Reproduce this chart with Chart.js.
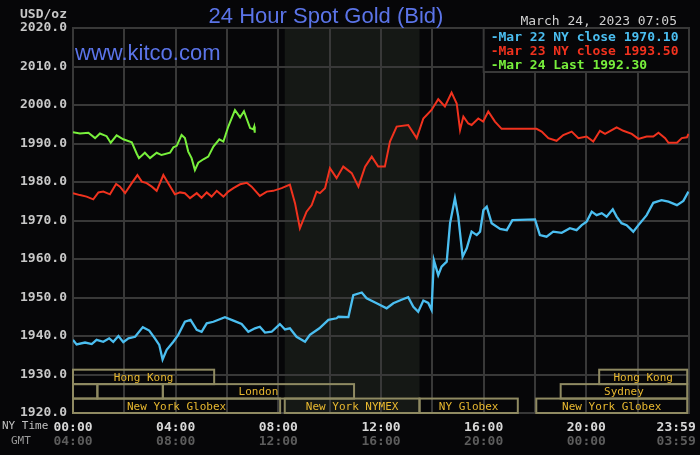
<!DOCTYPE html>
<html lang="en">
<head>
<meta charset="UTF-8">
<title>24 Hour Spot Gold (Bid)</title>
<script src="https://cdn.jsdelivr.net/npm/chart.js"></script>
<style>
  html, body { margin: 0; padding: 0; background: #060608; }
  canvas { display: block; }
</style>
</head>
<body>
<canvas id="goldChart" width="700" height="455"></canvas>
<script>
// hours after midnight (NY time) and bid price in USD/oz
const mar22Hours = [0, 0.14, 0.47, 0.73, 0.92, 1.18, 1.41, 1.57, 1.77, 1.96, 2.16, 2.42, 2.72, 2.97, 3.19, 3.36, 3.49, 3.65, 3.91, 4.10,
  4.36, 4.58, 4.82, 5.01, 5.21, 5.47, 5.92, 6.25, 6.57, 6.83, 7.09, 7.28, 7.48, 7.74, 8.06, 8.26, 8.45, 8.71, 9.04, 9.23,
  9.60, 9.95, 10.27, 10.34, 10.73, 10.92, 11.25, 11.44, 11.83, 12.22, 12.48, 12.80, 13.06, 13.26, 13.45, 13.65, 13.84, 13.97, 14.06, 14.23,
  14.36, 14.56, 14.69, 14.88, 15.01, 15.18, 15.34, 15.53, 15.73, 15.86, 15.99, 16.12, 16.31, 16.64, 16.90, 17.12, 18.00, 18.19, 18.45, 18.71,
  19.04, 19.36, 19.62, 19.82, 20.01, 20.21, 20.40, 20.60, 20.79, 21.03, 21.18, 21.37, 21.57, 21.83, 22.03, 22.35, 22.61, 22.93, 23.20, 23.53,
  23.78, 23.98];
const mar22Bid = [1939.0, 1937.8, 1938.3, 1937.9, 1939.0, 1938.5, 1939.4, 1938.5, 1940.0, 1938.4, 1939.4, 1939.8, 1942.3, 1941.4, 1939.4, 1937.7, 1933.9, 1936.4, 1938.5, 1940.3,
  1943.7, 1944.2, 1941.6, 1941.1, 1943.3, 1943.7, 1944.9, 1944.0, 1943.1, 1941.1, 1942.0, 1942.4, 1940.9, 1941.1, 1943.1, 1941.7, 1942.0, 1939.8, 1938.5, 1940.3,
  1942.0, 1944.2, 1944.6, 1945.0, 1944.9, 1950.6, 1951.3, 1949.8, 1948.5, 1947.2, 1948.5, 1949.4, 1950.1, 1947.6, 1946.3, 1949.2, 1948.6, 1946.8, 1959.7, 1955.8,
  1958.0, 1959.3, 1969.3, 1975.8, 1971.0, 1960.6, 1962.8, 1967.1, 1966.2, 1967.1, 1972.7, 1973.6, 1969.3, 1967.8, 1967.5, 1970.1, 1970.3, 1966.2, 1965.8, 1967.1,
  1966.8, 1968.0, 1967.5, 1968.8, 1969.7, 1972.3, 1971.4, 1971.9, 1971.0, 1972.9, 1971.0, 1969.3, 1968.8, 1967.1, 1968.8, 1971.4, 1974.6, 1975.3, 1974.9, 1974.0,
  1975.1, 1977.5];

const mar23Hours = [0, 0.27, 0.53, 0.79, 0.99, 1.18, 1.44, 1.68, 1.83, 2.03, 2.29, 2.51, 2.68, 2.87, 3.07, 3.26, 3.52, 3.71, 3.97, 4.17,
  4.36, 4.56, 4.82, 5.01, 5.21, 5.40, 5.60, 5.86, 6.05, 6.25, 6.51, 6.77, 6.96, 7.28, 7.55, 7.80, 8.13, 8.45, 8.65, 8.84,
  9.10, 9.30, 9.49, 9.62, 9.82, 10.01, 10.27, 10.53, 10.86, 11.12, 11.38, 11.64, 11.89, 12.15, 12.35, 12.61, 13.06, 13.39, 13.65, 13.97,
  14.23, 14.49, 14.75, 14.95, 15.08, 15.21, 15.40, 15.53, 15.79, 15.98, 16.18, 16.44, 16.70, 17.03, 18.06, 18.26, 18.52, 18.84, 19.10, 19.43,
  19.69, 20.01, 20.27, 20.53, 20.73, 20.99, 21.18, 21.44, 21.77, 22.03, 22.35, 22.61, 22.81, 23.07, 23.20, 23.53, 23.72, 23.92, 23.98];
const mar23Bid = [1977.1, 1976.6, 1976.2, 1975.5, 1977.3, 1977.5, 1976.8, 1979.5, 1978.8, 1977.1, 1979.7, 1981.8, 1980.1, 1979.7, 1978.8, 1977.7, 1981.8, 1979.7, 1976.8, 1977.3,
  1977.1, 1975.8, 1977.1, 1975.9, 1977.3, 1976.2, 1977.7, 1976.2, 1977.5, 1978.4, 1979.4, 1979.8, 1978.8, 1976.4, 1977.5, 1977.7, 1978.4, 1979.3, 1974.5, 1968.0,
  1972.3, 1974.0, 1977.5, 1977.1, 1978.4, 1983.6, 1981.0, 1984.0, 1982.3, 1978.8, 1984.0, 1986.6, 1984.0, 1984.0, 1990.5, 1994.4, 1994.8, 1991.4, 1996.5, 1998.7,
  2001.5, 1999.6, 2003.2, 2000.4, 1993.5, 1997.0, 1995.2, 1994.8, 1996.5, 1995.7, 1998.3, 1995.7, 1993.8, 1993.8, 1993.8, 1993.1, 1991.4, 1990.7, 1992.2, 1993.1,
  1991.4, 1991.8, 1990.5, 1993.3, 1992.5, 1993.5, 1994.2, 1993.3, 1992.5, 1991.2, 1991.8, 1991.8, 1992.8, 1991.4, 1990.2, 1990.2, 1991.4, 1991.6, 1992.5];

const mar24Hours = [0, 0.27, 0.60, 0.86, 1.05, 1.31, 1.47, 1.70, 1.96, 2.29, 2.48, 2.57, 2.80, 3.00, 3.26, 3.45, 3.78, 3.91, 4.04, 4.23,
  4.36, 4.49, 4.62, 4.75, 4.88, 5.08, 5.27, 5.47, 5.70, 5.86, 6.05, 6.31, 6.51, 6.66, 6.90, 7.02, 7.06, 7.08];
const mar24Bid = [1992.9, 1992.6, 1992.8, 1991.4, 1992.6, 1991.9, 1990.2, 1992.1, 1991.1, 1990.3, 1987.4, 1986.2, 1987.6, 1986.2, 1987.6, 1987.0, 1987.6, 1989.0, 1989.4, 1992.2,
  1991.4, 1987.9, 1986.2, 1983.1, 1985.0, 1985.9, 1986.6, 1989.2, 1991.1, 1990.5, 1994.4, 1998.7, 1996.8, 1998.4, 1994.0, 1993.7, 1994.4, 1992.8];

const seriesLabels = ['Mar 22 NY close 1970.10', 'Mar 23 NY close 1993.50', 'Mar 24 Last 1992.30'];

// x axis labels: NY time and GMT
const timeTickHours = [0, 4, 8, 12, 16, 20, 23.5];
const nyTickLabels = ['00:00', '04:00', '08:00', '12:00', '16:00', '20:00', '23:59'];
const gmtTickLabels = ['04:00', '08:00', '12:00', '16:00', '20:00', '00:00', '03:59'];

// trading sessions (row 0 = bottom band)
const sessionNames = ['Hong Kong', '', '', 'London', 'New York Globex', 'New York NYMEX', 'NY Globex', 'New York Globex', 'Sydney', 'Hong Kong'];
const sessionRow = [2, 1, 1, 1, 0, 0, 0, 0, 1, 2];
const sessionStart = [0, 0, 0.95, 3.5, 0, 8.25, 13.5, 18.05, 19.0, 20.5];
const sessionEnd = [5.5, 0.95, 3.5, 10.95, 8.07, 13.5, 17.33, 23.93, 23.93, 23.93];
const pitHours = [8.25, 13.5];

const MONO = '"DejaVu Sans Mono", monospace';
const SANS = '"Liberation Sans", Arial, sans-serif';
const GRID = '#383838';
const BG = '#060608';

function toPoints(hours, values) {
    return hours.map((h, i) => ({ x: h, y: values[i] }));
}

const kitcoDecor = {
    id: 'kitcoDecor',
    beforeDraw(chart) {
        const { ctx, chartArea: a, scales: { x } } = chart;
        ctx.save();
        ctx.fillStyle = BG;
        ctx.fillRect(0, 0, chart.width, chart.height);
        // shaded pit hours
        const p0 = x.getPixelForValue(pitHours[0]);
        const p1 = x.getPixelForValue(pitHours[1]);
        ctx.fillStyle = '#151815';
        ctx.fillRect(p0, a.top, p1 - p0, a.bottom - a.top);
        ctx.restore();
    },
    beforeDatasetsDraw(chart) {
        const { ctx, scales: { x, y } } = chart;
        const band = 3.75;
        ctx.save();
        ctx.strokeStyle = '#8f8a62';
        ctx.lineWidth = 2;
        ctx.font = '11px ' + MONO;
        ctx.textAlign = 'center';
        ctx.textBaseline = 'middle';
        ctx.fillStyle = '#e8b830';
        sessionNames.forEach((name, i) => {
            const x0 = x.getPixelForValue(sessionStart[i]);
            const x1 = x.getPixelForValue(sessionEnd[i]);
            const yb = y.getPixelForValue(1920 + sessionRow[i] * band);
            const yt = y.getPixelForValue(1920 + (sessionRow[i] + 1) * band);
            ctx.strokeRect(x0, yt, x1 - x0, yb - yt);
            if (name) ctx.fillText(name, (x0 + x1) / 2, (yt + yb) / 2 + 1);
        });
        ctx.restore();
    },
    afterDraw(chart) {
        const { ctx, chartArea: a, scales: { x } } = chart;
        ctx.save();
        // titles
        ctx.fillStyle = '#5b74e8';
        ctx.font = '22px ' + SANS;
        ctx.textAlign = 'center';
        ctx.textBaseline = 'alphabetic';
        ctx.fillText('24 Hour Spot Gold (Bid)', 326, 23);
        ctx.textAlign = 'left';
        ctx.fillText('www.kitco.com', 75, 60);

        ctx.font = '13px ' + MONO;
        ctx.fillStyle = '#d0d0d0';
        ctx.textAlign = 'right';
        ctx.fillText('March 24, 2023 07:05', 677, 25);
        ctx.font = 'bold 13px ' + MONO;
        ctx.fillStyle = '#c8c8c8';
        ctx.fillText('USD/oz', 67, 18);

        ctx.font = '11px ' + MONO;
        ctx.textAlign = 'left';
        ctx.textBaseline = 'middle';
        ctx.fillStyle = '#c0c0c0';
        ctx.fillText('NY Time', 2, 426);
        ctx.fillStyle = '#9a9a9a';
        ctx.fillText('GMT', 11, 441);

        // legend box
        const lx = x.getPixelForValue(16);
        ctx.fillStyle = BG;
        ctx.fillRect(lx, a.top, a.right - lx, 44);
        ctx.strokeStyle = GRID;
        ctx.lineWidth = 2;
        ctx.strokeRect(lx, a.top, a.right - lx, 44);
        ctx.font = 'bold 13px ' + MONO;
        ctx.textBaseline = 'alphabetic';
        chart.data.datasets.forEach((ds, i) => {
            ctx.fillStyle = ds.borderColor;
            ctx.fillText('-' + ds.label, lx + 7, a.top + 12.5 + i * 14);
        });
        ctx.restore();
    }
};

function labelAxis(labels, color, padding, height) {
    return {
        type: 'linear',
        position: 'bottom',
        min: 0,
        max: 24,
        grid: { display: false },
        border: { display: false },
        afterBuildTicks: s => { s.ticks = timeTickHours.map(v => ({ value: v })); },
        afterFit: s => { s.height = height; },
        ticks: {
            autoSkip: false,
            maxRotation: 0,
            padding: padding,
            color: color,
            font: { family: MONO, size: 13, weight: 'bold' },
            callback: (v, i) => labels[i]
        }
    };
}

new Chart(document.getElementById('goldChart'), {
    type: 'line',
    data: {
        datasets: [
            { label: seriesLabels[0], data: toPoints(mar22Hours, mar22Bid), borderColor: '#4bbef0', borderWidth: 2.3 },
            { label: seriesLabels[1], data: toPoints(mar23Hours, mar23Bid), borderColor: '#f0321e' },
            { label: seriesLabels[2], data: toPoints(mar24Hours, mar24Bid), borderColor: '#78f03c' }
        ]
    },
    options: {
        responsive: false,
        animation: false,
        layout: { padding: { top: 28, left: 0, right: 11, bottom: 0 } },
        elements: {
            point: { radius: 0 },
            line: { borderWidth: 2, tension: 0 }
        },
        plugins: {
            legend: { display: false },
            tooltip: { enabled: false }
        },
        scales: {
            x: {
                type: 'linear',
                position: 'bottom',
                min: 0,
                max: 24,
                weight: 0,
                grid: { color: GRID, lineWidth: 2, drawTicks: false },
                border: { color: GRID, width: 2 },
                ticks: { display: false, stepSize: 2 },
                afterFit: s => { s.height = 0; }
            },
            xNY: Object.assign(labelAxis(nyTickLabels, '#d8d8d8', -1, 20), { weight: 1 }),
            xGMT: Object.assign(labelAxis(gmtTickLabels, '#5c5c5c', -7, 22), { weight: 2 }),
            y: {
                min: 1920,
                max: 2020,
                grid: { color: GRID, lineWidth: 2, drawTicks: false },
                border: { color: GRID, width: 2 },
                afterFit: s => { s.width = 73; },
                ticks: {
                    stepSize: 10,
                    padding: 6,
                    color: '#c8c8c8',
                    font: { family: MONO, size: 13, weight: 'bold' },
                    callback: v => v.toFixed(1)
                }
            }
        }
    },
    plugins: [kitcoDecor]
});
</script>
</body>
</html>
